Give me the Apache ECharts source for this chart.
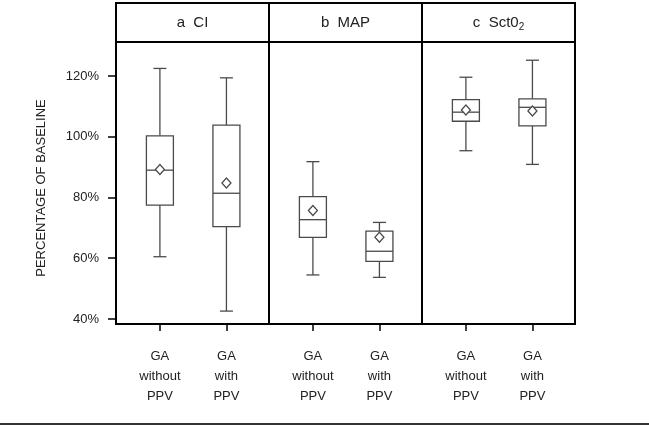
<!DOCTYPE html>
<html>
<head>
<meta charset="utf-8">
<script src="https://cdn.jsdelivr.net/npm/echarts@6/dist/echarts.min.js"></script>
<style>html,body{margin:0;padding:0;background:#fff}#c{width:649px;height:426px}</style>
</head>
<body>
<div id="c"></div>
<script>
// ---- data ----
const categories = ['GA\nwithout\nPPV', 'GA\nwith\nPPV'];
const panelTitles = ['a  CI', 'b  MAP', 'c  Sct0{sub|2}'];
// [min, Q1, median, Q3, max] per group
const ciBoxes = [[60.5, 77.5, 89.0, 100.3, 122.5], [42.6, 70.4, 81.4, 103.8, 119.4]];
const ciMeans = [89.2, 84.8];
const mapBoxes = [[54.5, 66.9, 72.7, 80.3, 91.8], [53.7, 59.0, 62.3, 68.9, 71.8]];
const mapMeans = [75.7, 66.9];
const sctBoxes = [[95.4, 105.1, 108.1, 112.2, 119.6], [90.9, 103.6, 109.7, 112.5, 125.2]];
const sctMeans = [108.8, 108.5];
const yTickValues = [40, 60, 80, 100, 120];
const yAxisTitle = 'PERCENTAGE OF BASELINE';

// ---- layout ----
const FONT = 'Liberation Sans, Arial, sans-serif';
const plotLeft = 116, plotRight = 575, plotTop = 42, plotBottom = 324, headTop = 3;
const pw = (plotRight - plotLeft) / 3;
const yMin = 38.35, yMax = 131.2;
const xMin = -0.66, xMax = 1.64;
const boxStroke = '#4a4a4a';

const allBoxes = [ciBoxes, mapBoxes, sctBoxes];
const allMeans = [ciMeans, mapMeans, sctMeans];

const grids = [], xAxes = [], yAxes = [], series = [];
for (let i = 0; i < 3; i++) {
  grids.push({left: plotLeft + pw * i, top: plotTop, width: pw, height: plotBottom - plotTop,
    show: true, borderColor: '#000', borderWidth: 2, backgroundColor: 'transparent'});
  xAxes.push({type: 'value', gridIndex: i, min: xMin, max: xMax,
    splitLine: {show: false},
    axisLine: {show: true, onZero: false, lineStyle: {color: '#000', width: 2}},
    axisTick: {show: true, customValues: [0, 1], length: 7, lineStyle: {color: '#000', width: 1.5}},
    axisLabel: {show: true, customValues: [0, 1], margin: 22, color: '#222', fontSize: 13,
      fontFamily: FONT, lineHeight: 20, formatter: v => categories[Math.round(v)]}});
  yAxes.push({type: 'value', gridIndex: i, min: yMin, max: yMax,
    splitLine: {show: false},
    axisLine: {show: i === 0, onZero: false, lineStyle: {color: '#000', width: 2}},
    axisTick: {show: i === 0, customValues: yTickValues, length: 8, lineStyle: {color: '#000', width: 1.5}},
    axisLabel: {show: i === 0, customValues: yTickValues, margin: 17, color: '#222', fontSize: 13,
      fontFamily: FONT, formatter: '{value}%'}});
  series.push({
    type: 'custom', xAxisIndex: i, yAxisIndex: i,
    encode: {x: 0, y: [1, 2, 3, 4, 5]},
    data: allBoxes[i].map((b, k) => [k].concat(b)),
    renderItem: function (params, api) {
      const x = api.value(0);
      const p = k => api.coord([x, api.value(k)]);
      const lo = p(1), q1 = p(2), med = p(3), q3 = p(4), hi = p(5);
      const cx = lo[0], half = 13.5, cap = 6.5;
      const st = {stroke: boxStroke, lineWidth: 1.3, fill: null};
      return {type: 'group', children: [
        {type: 'line', shape: {x1: cx, y1: hi[1], x2: cx, y2: q3[1]}, style: st},
        {type: 'line', shape: {x1: cx, y1: q1[1], x2: cx, y2: lo[1]}, style: st},
        {type: 'line', shape: {x1: cx - cap, y1: hi[1], x2: cx + cap, y2: hi[1]}, style: st},
        {type: 'line', shape: {x1: cx - cap, y1: lo[1], x2: cx + cap, y2: lo[1]}, style: st},
        {type: 'rect', shape: {x: cx - half, y: q3[1], width: 2 * half, height: q1[1] - q3[1]},
          style: {stroke: boxStroke, lineWidth: 1.3, fill: '#fff'}},
        {type: 'line', shape: {x1: cx - half, y1: med[1], x2: cx + half, y2: med[1]}, style: st}
      ]};
    }
  });
  series.push({
    type: 'scatter', xAxisIndex: i, yAxisIndex: i, z: 5,
    symbol: 'diamond', symbolSize: [9, 10],
    itemStyle: {color: '#fff', borderColor: boxStroke, borderWidth: 1.3, opacity: 1},
    data: allMeans[i].map((m, k) => [k, m])
  });
}

const graphics = [
  {type: 'rect', shape: {x: plotLeft, y: headTop, width: plotRight - plotLeft, height: plotTop - headTop},
    style: {fill: 'none', stroke: '#000', lineWidth: 2}},
  {type: 'line', shape: {x1: plotLeft + pw, y1: headTop, x2: plotLeft + pw, y2: plotTop}, style: {stroke: '#000', lineWidth: 2}},
  {type: 'line', shape: {x1: plotLeft + 2 * pw, y1: headTop, x2: plotLeft + 2 * pw, y2: plotTop}, style: {stroke: '#000', lineWidth: 2}},
  {type: 'line', shape: {x1: 0, y1: 424, x2: 649, y2: 424}, style: {stroke: '#333', lineWidth: 2}},
  {type: 'text', x: 41, y: 188, rotation: Math.PI / 2,
    style: {text: yAxisTitle, align: 'center', verticalAlign: 'middle', fill: '#222', fontSize: 13, fontFamily: FONT}}
];
panelTitles.forEach((t, i) => {
  graphics.push({type: 'text', x: plotLeft + pw * (i + 0.5), y: (headTop + plotTop) / 2,
    style: {text: t, align: 'center', verticalAlign: 'middle', fill: '#222', fontSize: 15, fontFamily: FONT,
      rich: {sub: {fontSize: 10, fontFamily: FONT, fill: '#222', padding: [9, 0, 0, 0]}}}});
});

const chart = echarts.init(document.getElementById('c'), null, {renderer: 'canvas'});
chart.setOption({
  animation: false,
  backgroundColor: '#fff',
  grid: grids, xAxis: xAxes, yAxis: yAxes, series: series,
  graphic: graphics
});
</script>
</body>
</html>
